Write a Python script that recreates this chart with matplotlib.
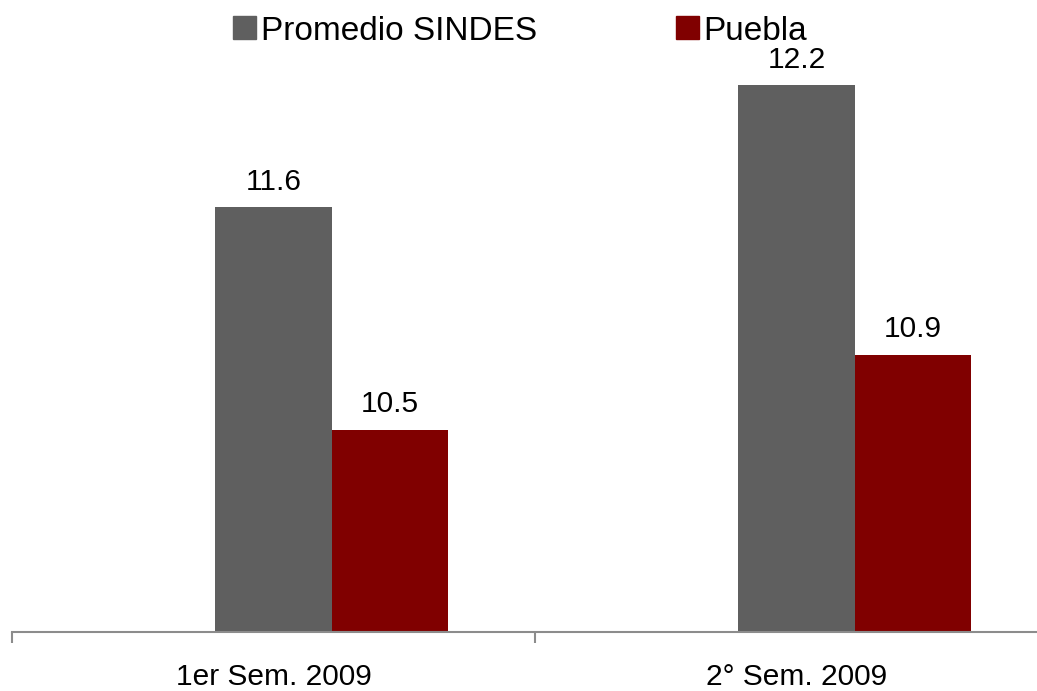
import matplotlib
matplotlib.use("Agg")
import matplotlib.pyplot as plt
import numpy as np
from matplotlib.patches import Patch

categories = ["1er Sem. 2009", "2° Sem. 2009"]
series_names = ["Promedio SINDES", "Puebla"]
sindes = [11.6, 12.2]
puebla = [10.5, 10.87]
colors = ["#5f5f5f", "#800000"]

plt.rcParams['font.family'] = ['Liberation Sans', 'DejaVu Sans']

W, H = 1037, 691
fig = plt.figure(figsize=(W / 100, H / 100), dpi=100)
left = 12 / W
bottom = 1 - 632 / H
width = (1058 - 12) / W
height = (632 - 24.5) / H
ax = fig.add_axes([left, bottom, width, height])

x = np.arange(len(categories))
bw = 0.222
ax.bar(x, np.array(sindes) - 9.5, bw, bottom=9.5, color=colors[0], align='center')
ax.bar(x + bw, np.array(puebla) - 9.5, bw, bottom=9.5, color=colors[1], align='center')

for xs, vals in ((x, sindes), (x + bw, puebla)):
    for xi, v in zip(xs, vals):
        ax.annotate(f"{v:.1f}", (xi, v), xytext=(0, 8), textcoords='offset points',
                    ha='center', va='bottom', fontsize=21.5)

ax.set_xlim(-0.5, 1.5)
ax.set_ylim(9.5, 12.5)
for s in ['left', 'right', 'top']:
    ax.spines[s].set_visible(False)
ax.spines['bottom'].set_color('#8c8c8c')
ax.spines['bottom'].set_linewidth(1.5)
ax.set_yticks([])
ax.set_xticks(x)
ax.set_xticklabels(categories, fontsize=21.5)
ax.tick_params(axis='x', which='major', length=0, pad=22)
ax.set_xticks([-0.5, 0.5, 1.5], minor=True)
ax.tick_params(axis='x', which='minor', length=8, width=1.5, color='#8c8c8c', direction='out')

handles = [Patch(color=colors[0]), Patch(color=colors[1])]
fig.legend(handles, series_names, loc='center', bbox_to_anchor=(520 / W, 1 - 31 / H),
           ncol=2, frameon=False, fontsize=24, handlelength=0.69, handleheight=0.69,
           handletextpad=0.15, columnspacing=4.17, borderaxespad=0, borderpad=0)

fig.savefig("out.png", dpi=100)
